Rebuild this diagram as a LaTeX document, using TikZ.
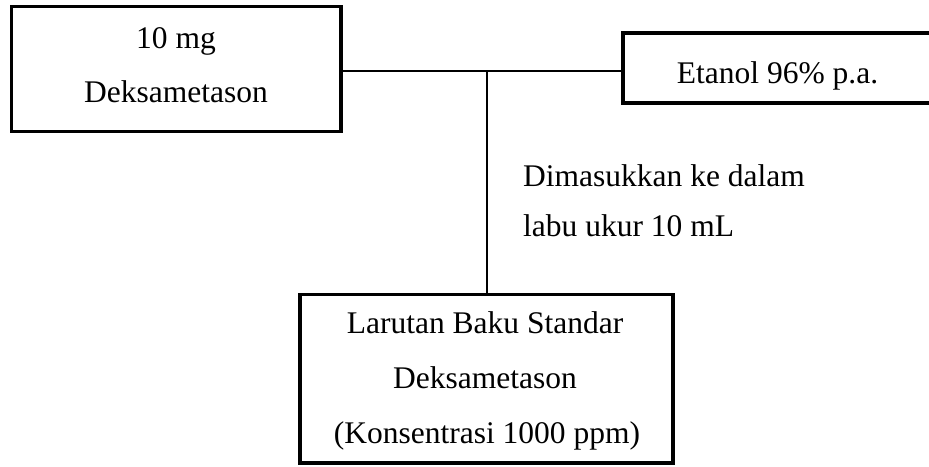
\documentclass[tikz,border=0pt]{standalone}
\usepackage{fontspec}
\setmainfont{Liberation Serif}
\begin{document}
\begin{tikzpicture}[x=1pt,y=-1pt,
  boxstyle/.style={draw,line width=3.3pt,inner sep=0pt},
  linkstyle/.style={line width=2.6pt},
  txt/.style={inner sep=0pt,anchor=base,font=\fontsize{31.5}{38}\selectfont},
  lbl/.style={txt,anchor=base west}]
\useasboundingbox (0,0) rectangle (929,466);
% boxes
\node[boxstyle,minimum width=329.5pt,minimum height=125pt] (b1) at (176.25,69) {};
\node[boxstyle,minimum width=309pt,minimum height=70pt] (b2) at (777.5,68) {};
\node[boxstyle,minimum width=373pt,minimum height=168.5pt] (b3) at (486.5,378.75) {};
% box texts
\node[txt] (b1a) at (176,48) {10 mg};
\node[txt] (b1b) at (176,102) {Deksametason};
\node[txt] (b2a) at (777.5,83) {Etanol 96\%\ p.a.};
\node[txt] (b3a) at (485,333) {Larutan Baku Standar};
\node[txt] (b3b) at (485,388) {Deksametason};
\node[txt] (b3c) at (487,443) {(Konsentrasi 1000 ppm)};
% connectors
\coordinate (j) at (487,71);
\draw[linkstyle] (b1.east |- j) -- (b2.west |- j);
\draw[linkstyle] (j) -- (b3.north -| j);
% label
\node[lbl] (t1) at (523,186) {Dimasukkan ke dalam};
\node[lbl] (t2) at (523,236) {labu ukur 10 mL};
\end{tikzpicture}
\end{document}
